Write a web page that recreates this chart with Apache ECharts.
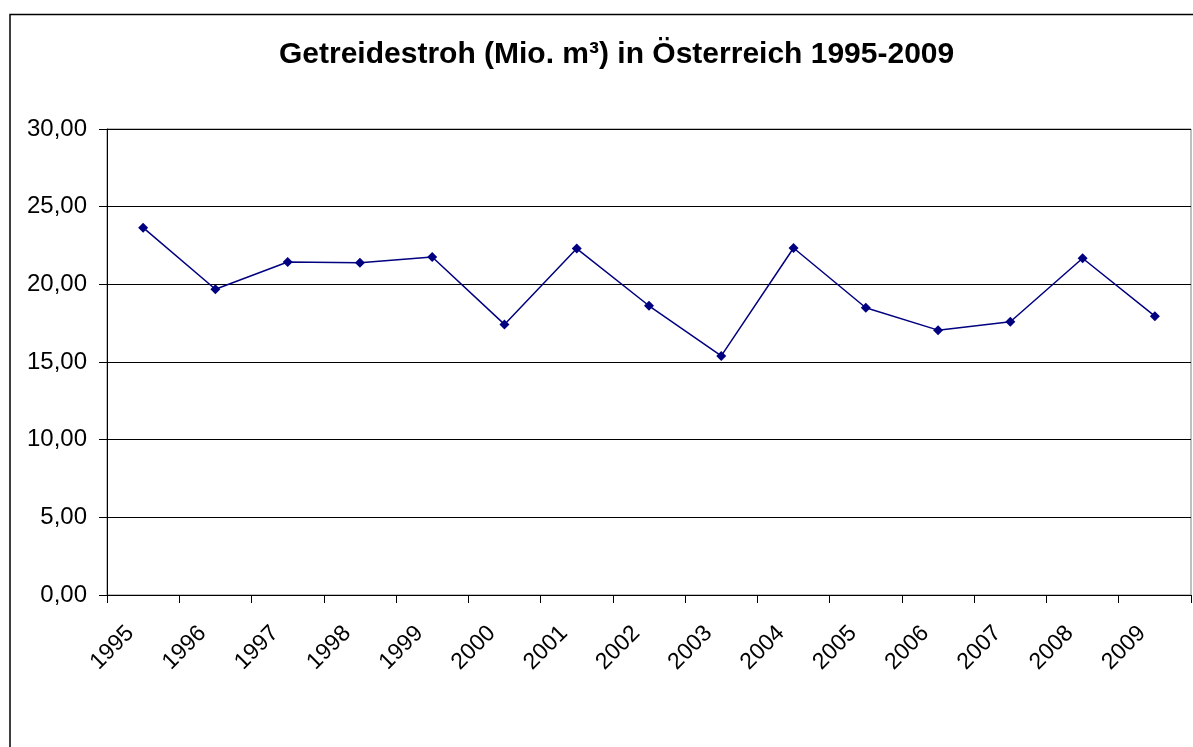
<!DOCTYPE html>
<html>
<head>
<meta charset="utf-8">
<script src="https://cdn.jsdelivr.net/npm/echarts@6/dist/echarts.min.js"></script>
<style>
  html, body { margin: 0; padding: 0; background: #fff; }
  #chart { width: 1193px; height: 747px; }
</style>
</head>
<body>
<div id="chart"></div>
<script>
const titleText = 'Getreidestroh (Mio. m³) in Österreich 1995-2009';
const years = ['1995','1996','1997','1998','1999','2000','2001','2002','2003','2004','2005','2006','2007','2008','2009'];
const values = [23.65, 19.68, 21.44, 21.39, 21.76, 17.42, 22.30, 18.62, 15.39, 22.34, 18.49, 17.05, 17.59, 21.68, 17.95];
const yMin = 0, yMax = 30, yStep = 5;

const chart = echarts.init(document.getElementById('chart'), null, { renderer: 'canvas' });
const font = '"Liberation Sans", Arial, sans-serif';

chart.setOption({
  animation: false,
  backgroundColor: '#fff',
  title: {
    text: titleText,
    left: 274,
    top: 35,
    textStyle: { fontFamily: font, fontSize: 30, fontWeight: 'bold', color: '#000' }
  },
  graphic: [{
    type: 'rect',
    left: 7.5, top: 12,
    shape: { width: 1200, height: 800 },
    style: { fill: 'none', stroke: '#000', lineWidth: 1.5 },
    silent: true
  }],
  grid: {
    left: 107, right: 2, top: 129, bottom: 152,
    show: true, borderColor: '#808080', borderWidth: 1, backgroundColor: 'transparent'
  },
  xAxis: {
    type: 'category',
    data: years,
    boundaryGap: true,
    axisLine: { lineStyle: { color: '#000', width: 1 } },
    axisTick: { show: true, length: 8, lineStyle: { color: '#000' } },
    axisLabel: { rotate: 45, margin: 22, padding: [0, 18, 0, 0], fontFamily: font, fontSize: 23, color: '#000', interval: 0 },
    splitLine: { show: false }
  },
  yAxis: {
    type: 'value',
    min: yMin, max: yMax, interval: yStep,
    axisLine: { show: true, lineStyle: { color: '#000', width: 1 } },
    axisTick: { show: true, length: 8, lineStyle: { color: '#000' } },
    axisLabel: {
      margin: 20, fontFamily: font, fontSize: 24, color: '#000',
      formatter: v => v.toFixed(2).replace('.', ',')
    },
    splitLine: { show: true, lineStyle: { color: '#000', width: 1 } }
  },
  series: [{
    type: 'line',
    data: values,
    symbol: 'diamond',
    symbolSize: 10,
    lineStyle: { color: '#000080', width: 1.5 },
    itemStyle: { color: '#000080' }
  }]
});
</script>
</body>
</html>
